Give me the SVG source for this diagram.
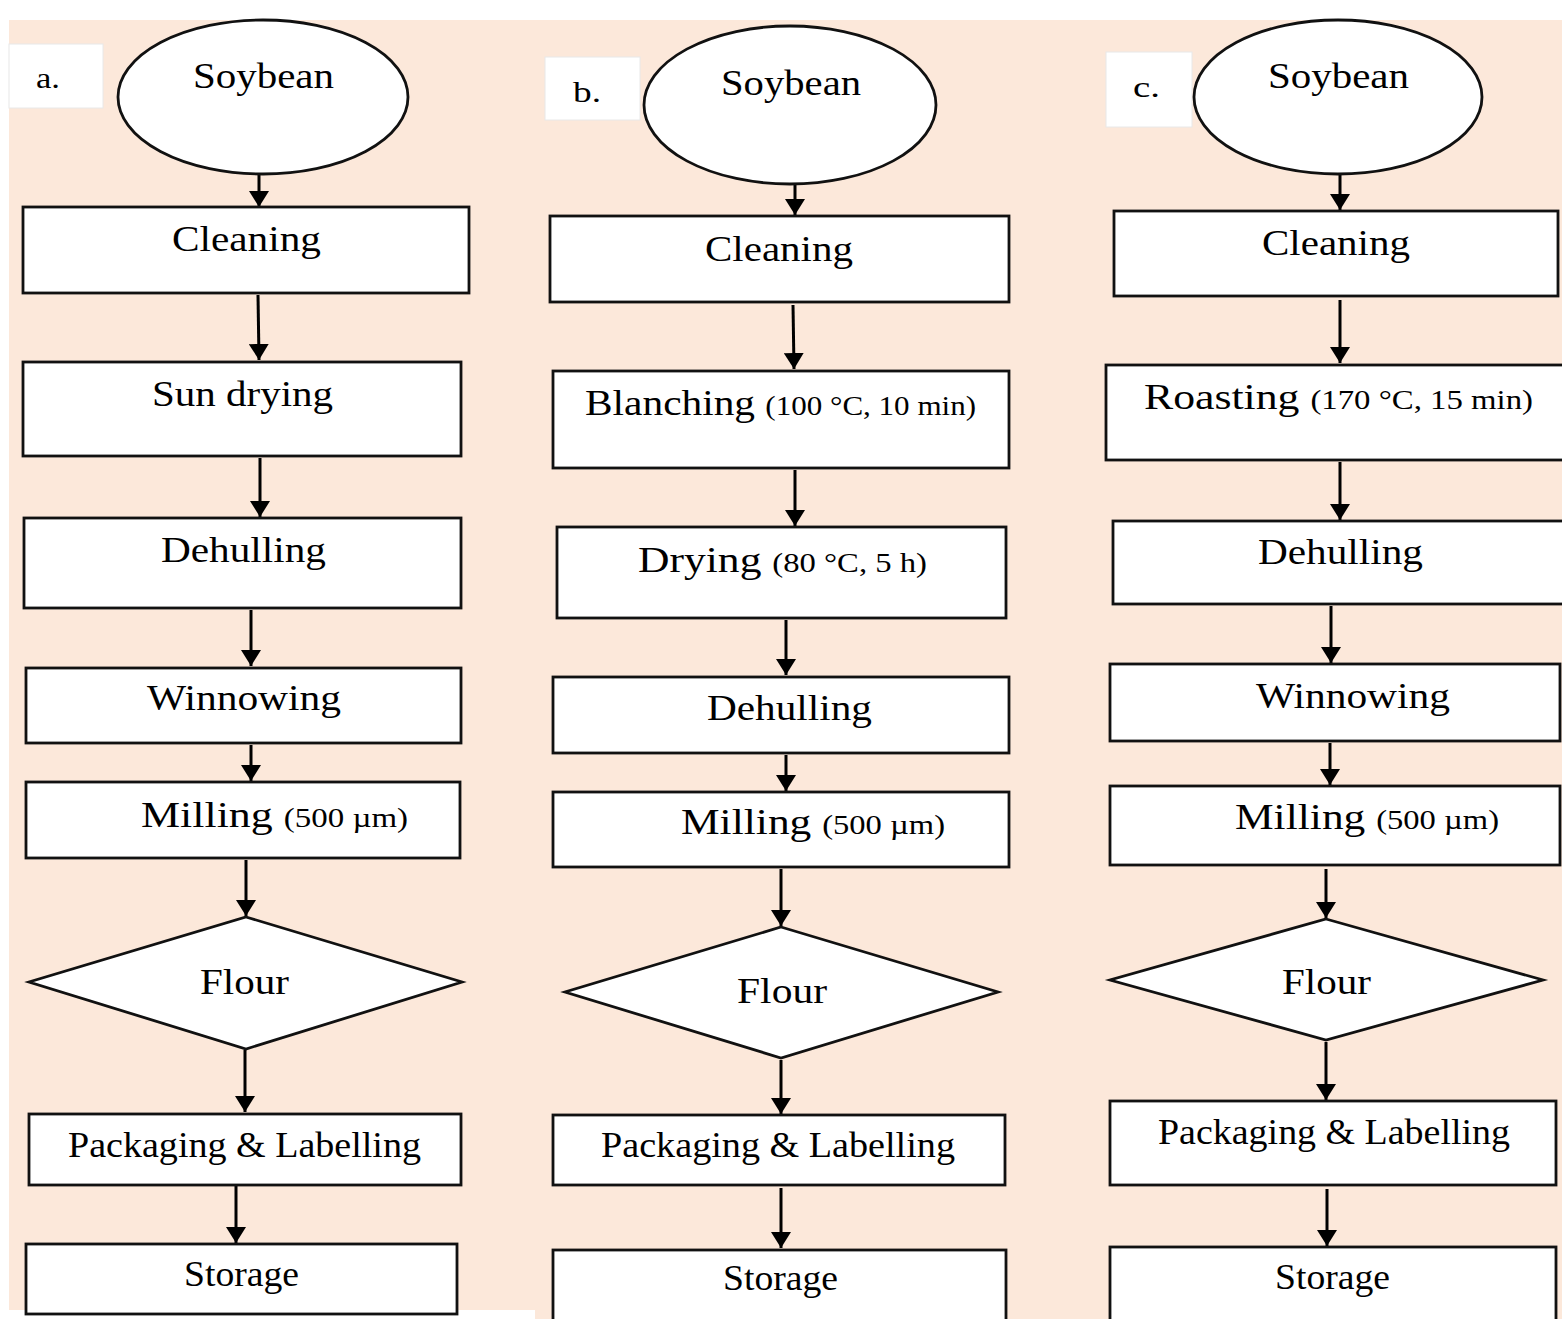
<svg xmlns="http://www.w3.org/2000/svg" width="1562" height="1319" viewBox="0 0 1562 1319">
<style>
.bx{fill:#fff;stroke:#111;stroke-width:2.8}
.lb{fill:#fff;stroke:#e8e8e8;stroke-width:1}
.t{font-family:"Liberation Serif","Times New Roman",serif;font-size:36px;fill:#000}
.s{font-size:27px}
.lt{font-family:"Liberation Serif","Times New Roman",serif;font-size:30px;fill:#000}
.c{stroke:#000;stroke-width:3;fill:none}
</style>
<defs>
<marker id="ah" viewBox="0 0 16 20" refX="16" refY="10" markerWidth="16" markerHeight="20" markerUnits="userSpaceOnUse" orient="auto">
<path d="M0,0 L16,10 L0,20 z" fill="#000"/>
</marker>
</defs>
<rect x="0" y="0" width="1562" height="1319" fill="#fff"/>
<rect x="9" y="20" width="1553" height="1299" fill="#fce8da"/>
<rect x="0" y="1310" width="535" height="9" fill="#fff"/>

<g id="connectors">
<line class="c" x1="259" y1="175" x2="259" y2="207" marker-end="url(#ah)"/>
<line class="c" x1="258" y1="295" x2="259" y2="360" marker-end="url(#ah)"/>
<line class="c" x1="260" y1="458" x2="260" y2="517" marker-end="url(#ah)"/>
<line class="c" x1="251" y1="610" x2="251" y2="666" marker-end="url(#ah)"/>
<line class="c" x1="251" y1="745" x2="251" y2="781" marker-end="url(#ah)"/>
<line class="c" x1="246" y1="860" x2="246" y2="916" marker-end="url(#ah)"/>
<line class="c" x1="245" y1="1050" x2="245" y2="1112" marker-end="url(#ah)"/>
<line class="c" x1="236" y1="1186" x2="236" y2="1243" marker-end="url(#ah)"/>

<line class="c" x1="795" y1="185" x2="795" y2="215" marker-end="url(#ah)"/>
<line class="c" x1="793" y1="305" x2="794" y2="369" marker-end="url(#ah)"/>
<line class="c" x1="795" y1="470" x2="795" y2="526" marker-end="url(#ah)"/>
<line class="c" x1="786" y1="620" x2="786" y2="675" marker-end="url(#ah)"/>
<line class="c" x1="786" y1="755" x2="786" y2="791" marker-end="url(#ah)"/>
<line class="c" x1="781" y1="869" x2="781" y2="926" marker-end="url(#ah)"/>
<line class="c" x1="781" y1="1060" x2="781" y2="1114" marker-end="url(#ah)"/>
<line class="c" x1="781" y1="1188" x2="781" y2="1248" marker-end="url(#ah)"/>

<line class="c" x1="1340" y1="174" x2="1340" y2="210" marker-end="url(#ah)"/>
<line class="c" x1="1340" y1="300" x2="1340" y2="363" marker-end="url(#ah)"/>
<line class="c" x1="1340" y1="462" x2="1340" y2="520" marker-end="url(#ah)"/>
<line class="c" x1="1331" y1="606" x2="1331" y2="663" marker-end="url(#ah)"/>
<line class="c" x1="1330" y1="743" x2="1330" y2="785" marker-end="url(#ah)"/>
<line class="c" x1="1326" y1="869" x2="1326" y2="918" marker-end="url(#ah)"/>
<line class="c" x1="1326" y1="1042" x2="1326" y2="1100" marker-end="url(#ah)"/>
<line class="c" x1="1327" y1="1189" x2="1327" y2="1246" marker-end="url(#ah)"/>
</g>

<!-- Column a -->
<g id="label-a"><rect class="lb" x="9" y="44" width="94" height="64"/><text class="lt" x="36" y="88" textLength="24" lengthAdjust="spacingAndGlyphs">a.</text></g>
<g id="a-soybean"><ellipse class="bx" cx="263" cy="97" rx="145" ry="77"/><text class="t" x="193" y="88" textLength="141" lengthAdjust="spacingAndGlyphs">Soybean</text></g>
<g id="a-cleaning"><rect class="bx" x="23" y="207" width="446" height="86"/><text class="t" x="172" y="251" textLength="149" lengthAdjust="spacingAndGlyphs">Cleaning</text></g>
<g id="a-sundrying"><rect class="bx" x="23" y="362" width="438" height="94"/><text class="t" x="152" y="406" textLength="181" lengthAdjust="spacingAndGlyphs">Sun drying</text></g>
<g id="a-dehulling"><rect class="bx" x="24" y="518" width="437" height="90"/><text class="t" x="161" y="562" textLength="165" lengthAdjust="spacingAndGlyphs">Dehulling</text></g>
<g id="a-winnowing"><rect class="bx" x="26" y="668" width="435" height="75"/><text class="t" x="147" y="710" textLength="194" lengthAdjust="spacingAndGlyphs">Winnowing</text></g>
<g id="a-milling"><rect class="bx" x="26" y="782" width="434" height="76"/><text class="t" x="141" y="827" textLength="267" lengthAdjust="spacingAndGlyphs">Milling <tspan class="s">(500 µm)</tspan></text></g>
<g id="a-flour"><polygon class="bx" points="246,917 462,982 246,1049 29,982"/><text class="t" x="200" y="994" textLength="89" lengthAdjust="spacingAndGlyphs">Flour</text></g>
<g id="a-packaging"><rect class="bx" x="29" y="1114" width="432" height="71"/><text class="t" x="68" y="1157" textLength="353" lengthAdjust="spacingAndGlyphs">Packaging &amp; Labelling</text></g>
<g id="a-storage"><rect class="bx" x="26" y="1244" width="431" height="70"/><text class="t" x="184" y="1286" textLength="115" lengthAdjust="spacingAndGlyphs">Storage</text></g>

<!-- Column b -->
<g id="label-b"><rect class="lb" x="545" y="57" width="95" height="63"/><text class="lt" x="573" y="102" textLength="28" lengthAdjust="spacingAndGlyphs">b.</text></g>
<g id="b-soybean"><ellipse class="bx" cx="790" cy="105" rx="146" ry="79"/><text class="t" x="721" y="95" textLength="140" lengthAdjust="spacingAndGlyphs">Soybean</text></g>
<g id="b-cleaning"><rect class="bx" x="550" y="216" width="459" height="86"/><text class="t" x="705" y="261" textLength="148" lengthAdjust="spacingAndGlyphs">Cleaning</text></g>
<g id="b-blanching"><rect class="bx" x="553" y="371" width="456" height="97"/><text class="t" x="585" y="415" textLength="391" lengthAdjust="spacingAndGlyphs">Blanching <tspan class="s">(100 °C, 10 min)</tspan></text></g>
<g id="b-drying"><rect class="bx" x="557" y="527" width="449" height="91"/><text class="t" x="638" y="572" textLength="289" lengthAdjust="spacingAndGlyphs">Drying <tspan class="s">(80 °C, 5 h)</tspan></text></g>
<g id="b-dehulling"><rect class="bx" x="553" y="677" width="456" height="76"/><text class="t" x="707" y="720" textLength="165" lengthAdjust="spacingAndGlyphs">Dehulling</text></g>
<g id="b-milling"><rect class="bx" x="553" y="792" width="456" height="75"/><text class="t" x="681" y="834" textLength="264" lengthAdjust="spacingAndGlyphs">Milling <tspan class="s">(500 µm)</tspan></text></g>
<g id="b-flour"><polygon class="bx" points="781,927 998,992 781,1058 565,992"/><text class="t" x="737" y="1003" textLength="90" lengthAdjust="spacingAndGlyphs">Flour</text></g>
<g id="b-packaging"><rect class="bx" x="553" y="1115" width="452" height="70"/><text class="t" x="601" y="1157" textLength="354" lengthAdjust="spacingAndGlyphs">Packaging &amp; Labelling</text></g>
<g id="b-storage"><rect class="bx" x="553" y="1250" width="453" height="80"/><text class="t" x="723" y="1290" textLength="115" lengthAdjust="spacingAndGlyphs">Storage</text></g>

<!-- Column c -->
<g id="label-c"><rect class="lb" x="1106" y="52" width="86" height="75"/><text class="lt" x="1133" y="97" textLength="27" lengthAdjust="spacingAndGlyphs">c.</text></g>
<g id="c-soybean"><ellipse class="bx" cx="1338" cy="97" rx="144" ry="77"/><text class="t" x="1268" y="88" textLength="141" lengthAdjust="spacingAndGlyphs">Soybean</text></g>
<g id="c-cleaning"><rect class="bx" x="1114" y="211" width="444" height="85"/><text class="t" x="1262" y="255" textLength="148" lengthAdjust="spacingAndGlyphs">Cleaning</text></g>
<g id="c-roasting"><rect class="bx" x="1106" y="365" width="470" height="95"/><text class="t" x="1144" y="409" textLength="389" lengthAdjust="spacingAndGlyphs">Roasting <tspan class="s">(170 °C, 15 min)</tspan></text></g>
<g id="c-dehulling"><rect class="bx" x="1113" y="521" width="460" height="83"/><text class="t" x="1258" y="564" textLength="165" lengthAdjust="spacingAndGlyphs">Dehulling</text></g>
<g id="c-winnowing"><rect class="bx" x="1110" y="664" width="450" height="77"/><text class="t" x="1256" y="708" textLength="194" lengthAdjust="spacingAndGlyphs">Winnowing</text></g>
<g id="c-milling"><rect class="bx" x="1110" y="786" width="450" height="79"/><text class="t" x="1235" y="829" textLength="264" lengthAdjust="spacingAndGlyphs">Milling <tspan class="s">(500 µm)</tspan></text></g>
<g id="c-flour"><polygon class="bx" points="1326,919 1543,980 1326,1040 1110,980"/><text class="t" x="1282" y="994" textLength="89" lengthAdjust="spacingAndGlyphs">Flour</text></g>
<g id="c-packaging"><rect class="bx" x="1110" y="1101" width="446" height="84"/><text class="t" x="1158" y="1144" textLength="352" lengthAdjust="spacingAndGlyphs">Packaging &amp; Labelling</text></g>
<g id="c-storage"><rect class="bx" x="1110" y="1247" width="446" height="83"/><text class="t" x="1275" y="1289" textLength="115" lengthAdjust="spacingAndGlyphs">Storage</text></g>
</svg>
